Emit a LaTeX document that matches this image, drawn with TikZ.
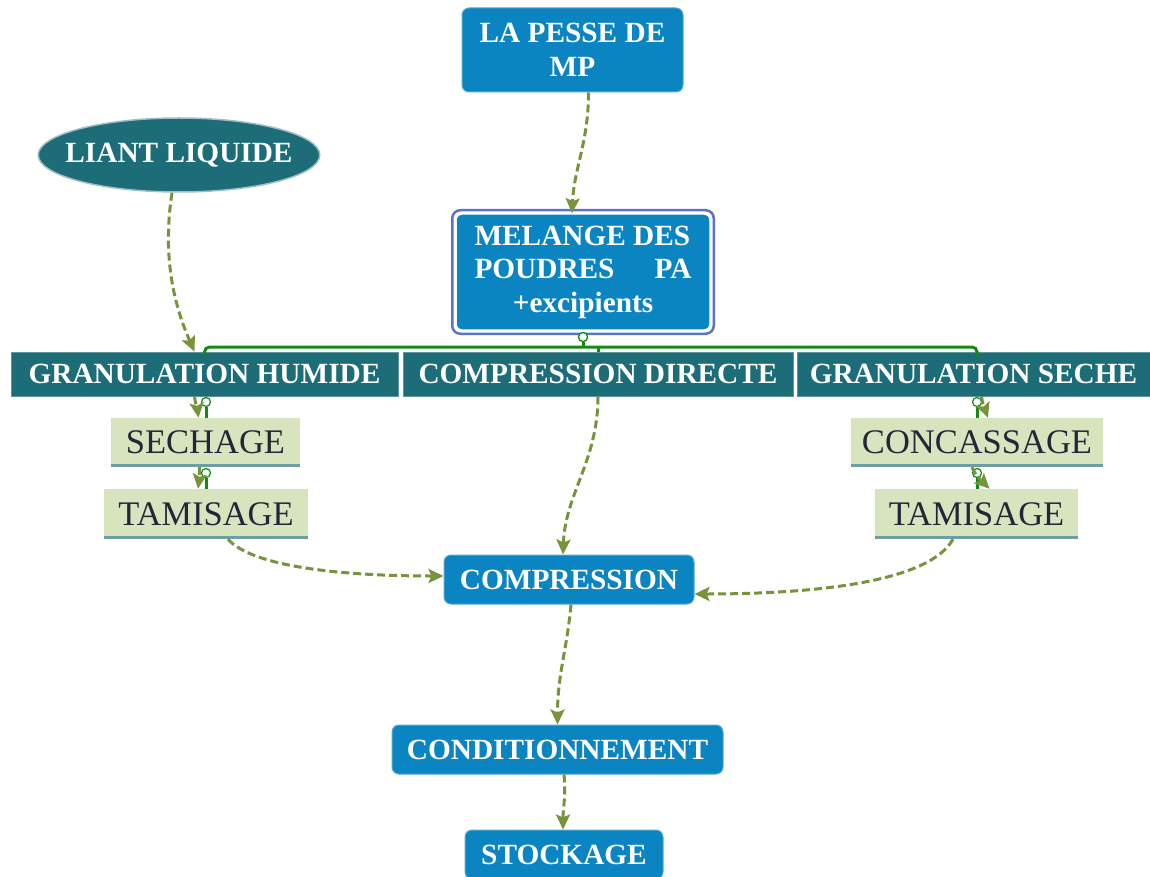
\documentclass[tikz,border=0pt]{standalone}
\usepackage{fontspec}
\setmainfont{Liberation Serif}
\usetikzlibrary{arrows.meta,shapes.geometric}
\definecolor{bluebox}{HTML}{0A85C1}
\definecolor{tealbox}{HTML}{1C6D78}
\definecolor{tealedge}{HTML}{5E949B}
\definecolor{greenbox}{HTML}{D8E4BE}
\definecolor{greenline}{HTML}{6C9FA3}
\definecolor{arrowgreen}{HTML}{77933C}
\definecolor{bracket}{HTML}{138A13}
\definecolor{meledge}{HTML}{5B72CC}
\definecolor{darktext}{HTML}{25253A}
\begin{document}
\begin{tikzpicture}[x=1pt,y=-1pt,
  bluenode/.style={fill=bluebox, draw=bluebox!70!white, line width=1pt, rounded corners=7pt,
    text=white, font=\fontsize{29.3}{33.5}\selectfont\bfseries, inner sep=0pt, align=center},
  tealnode/.style={fill=tealbox, draw=tealedge, line width=1pt, text=white,
    font=\fontsize{29.3}{34}\selectfont\bfseries, inner sep=0pt},
  lightnode/.style={fill=greenbox, text=darktext, font=\fontsize{34.5}{40}\selectfont, inner sep=0pt},
  flow/.style={draw=arrowgreen, line width=3pt, dash pattern=on 8pt off 4pt,
    -{Stealth[length=15pt,width=14pt,inset=3pt]}},
  brk/.style={draw=bracket, line width=3pt},
  knob/.style={circle, draw=bracket, fill=white, line width=1.2pt, minimum size=9pt, inner sep=0pt},
  baseline/.style={draw=greenline, line width=3pt}
]
\useasboundingbox (0,0) rectangle (1150,877);
\clip (0,0) rectangle (1150,877);
\fill[white] (0,0) rectangle (1150,877);

% nodes
\node[bluenode, minimum width=221pt, minimum height=84pt] (pesse) at (572.5,50) {LA PESSE DE\\MP};
\node[ellipse, fill=tealbox, draw=tealedge!60!white, line width=1.5pt, minimum width=278pt, minimum height=74pt,
  inner xsep=-14pt, inner ysep=0pt, text=white, font=\fontsize{29.3}{34}\selectfont\bfseries] (liant) at (179,155) {LIANT LIQUIDE};
\node[bluenode, draw=white, line width=1.5pt, rounded corners=6pt, minimum width=254pt, minimum height=116pt] (mel) at (583,272)
  {\makebox[217pt][l]{MELANGE DES}\\\makebox[217pt][s]{POUDRES PA}\\+excipients};
\draw[meledge, line width=2.5pt, rounded corners=8pt] ([shift={(-3pt,3pt)}]mel.north west) rectangle ([shift={(3pt,-3pt)}]mel.south east);

\node[tealnode, minimum width=387pt, minimum height=44pt] (gh) at (204.5,374) {GRANULATION HUMIDE};
\node[tealnode, minimum width=390pt, minimum height=44pt] (cd) at (598,374) {COMPRESSION DIRECTE};
\node[tealnode, minimum width=353pt, minimum height=44pt] (gs) at (973.5,374) {GRANULATION SECHE};

\node[lightnode, minimum width=189pt, minimum height=49pt] (sech) at (205.5,442.5) {SECHAGE};
\node[lightnode, minimum width=204pt, minimum height=50pt] (tam1) at (206,514) {TAMISAGE};
\node[lightnode, minimum width=252pt, minimum height=49pt] (conc) at (977,442.5) {CONCASSAGE};
\node[lightnode, minimum width=203pt, minimum height=50pt] (tam2) at (976.5,514) {TAMISAGE};
\foreach \n in {sech,tam1,conc,tam2}{
  \draw[baseline] ([yshift=1.5pt]\n.south west) -- ([yshift=1.5pt]\n.south east);
}

\node[bluenode, minimum width=250pt, minimum height=49pt] (comp) at (569,579.5) {COMPRESSION};
\node[bluenode, minimum width=331pt, minimum height=49pt] (cond) at (557.5,749.5) {CONDITIONNEMENT};
\node[bluenode, minimum width=198pt, minimum height=49pt] (stock) at (564,854.5) {STOCKAGE};

% green bracket
\coordinate (bl) at (205,347);
\coordinate (br) at (977,347);
\node[knob] (k0) at (583,337) {};
\draw[brk, rounded corners=5pt] (gh.north) |- (br) -- (gs.north -| br);
\draw[brk] (k0.south) -- (k0.south |- bl);
\draw[brk] (cd.north) -- (cd.north |- bl);
\node[knob] (k0) at (583,337) {};

\node[knob] (k1) at (206,402) {};
\node[knob] (k2) at (206,473) {};
\node[knob] (k3) at (977,402) {};
\node[knob] (k4) at (977,473) {};
\draw[brk] (k1.south) -- (k1.south |- sech.north);
\draw[brk] (k2.south) -- (k2.south |- tam1.north);
\draw[brk] (k3.south) -- (k3.south |- conc.north);
\draw[brk] (k4.south) -- (k4.south |- tam2.north);

% small dashed arrows
\draw[flow] ([xshift=-10pt]gh.south) .. controls +(1,8) and +(-1,-8) .. ([xshift=-7pt]sech.north);
\draw[flow] ([xshift=-6pt]sech.south) .. controls +(0,8) and +(1,-8) .. ([xshift=-8pt]tam1.north);
\draw[flow] ([xshift=8pt]gs.south) .. controls +(1,8) and +(-3,-8) .. ([xshift=11pt]conc.north);
\draw[flow] ([xshift=-5pt]conc.south) .. controls +(3,8) and +(-6,-6) .. ([xshift=13pt]tam2.north);

% main dashed arrows
\draw[flow] ([xshift=16pt]pesse.south) .. controls +(0,50) and +(2,-45) .. ([xshift=-11pt]mel.north);
\draw[flow] ([xshift=-7pt]liant.south) .. controls +(-10,65) and +(-20,-45) .. ([xshift=-10pt]gh.north);
\draw[flow] (cd.south) .. controls +(0,64) and +(2,-60) .. ([xshift=-6pt]comp.north);
\draw[flow] ([xshift=22pt]tam1.south) .. controls +(25,28) and +(-100,0) .. ([yshift=3.5pt]comp.west);
\draw[flow] ([xshift=-23.5pt]tam2.south) .. controls +(-25,45) and +(110,0) .. ([yshift=-14.5pt]comp.east);
\draw[flow] ([xshift=2pt]comp.south) .. controls +(-4,45) and +(0,-50) .. (cond.north);
\draw[flow] ([xshift=6.5pt]cond.south) .. controls +(2,20) and +(0,-20) .. ([xshift=-1pt]stock.north);
\end{tikzpicture}
\end{document}
